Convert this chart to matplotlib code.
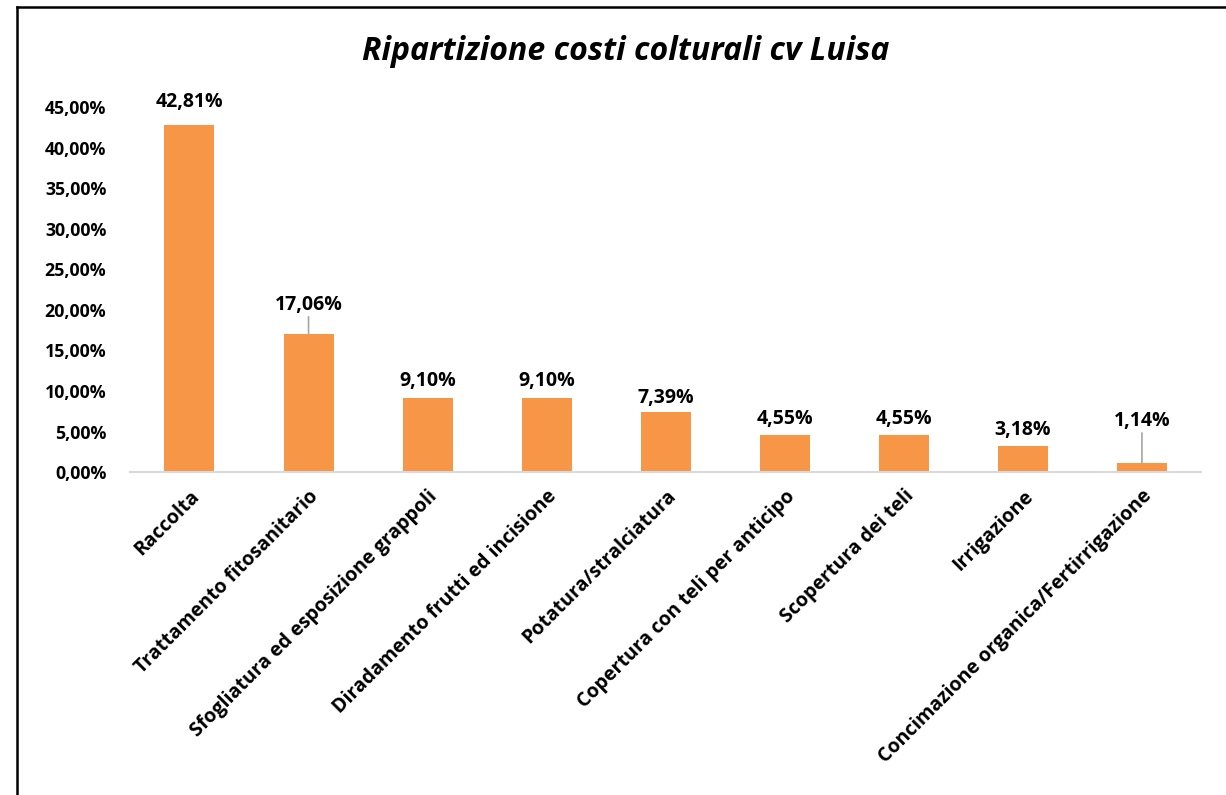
"""Ripartizione costi colturali cv Luisa - istogramma."""

import matplotlib.pyplot as plt
from matplotlib.lines import Line2D

voci = [
    "Raccolta",
    "Trattamento fitosanitario",
    "Sfogliatura ed esposizione grappoli",
    "Diradamento frutti ed incisione",
    "Potatura/stralciatura",
    "Copertura con teli per anticipo",
    "Scopertura dei teli",
    "Irrigazione",
    "Concimazione organica/Fertirrigazione",
]
quote = [42.81, 17.06, 9.10, 9.10, 7.39, 4.55, 4.55, 3.18, 1.14]
tick_y = [0, 5, 10, 15, 20, 25, 30, 35, 40, 45]

# distanza etichetta-barra (pixel) e linee guida come nel grafico Excel
scarto = [23, 29, 17, 17, 14, 16, 16, 16, 42]
con_linea = [False, True, False, False, False, False, False, False, True]

plt.rcParams["font.family"] = ["Open Sans", "DejaVu Sans"]
fs = 14

def fmt(v):
    return f"{v:.2f}".replace(".", ",") + "%"

fig = plt.figure(figsize=(12.26, 7.95), dpi=100)
ax = fig.add_axes([0.106, 0.406, 0.874, 0.4594])

x = range(len(voci))
ax.bar(x, quote, width=0.42, color="#F79646", zorder=2)
ax.set_xlim(-0.5, len(voci) - 0.5)
ax.set_ylim(0, 45)
ax.set_yticks(tick_y)
ax.set_yticklabels([fmt(t) for t in tick_y], fontsize=12.8, fontweight="bold")
ax.set_xticks(list(x))
ax.set_xticklabels(voci, rotation=45, ha="right", rotation_mode="anchor",
                   fontsize=fs, fontweight="bold")
ax.tick_params(axis="y", length=0, pad=17)
ax.tick_params(axis="x", length=0, pad=10)

for s in ["top", "right", "left"]:
    ax.spines[s].set_visible(False)
ax.spines["bottom"].set_color("#D9D9D9")
ax.spines["bottom"].set_linewidth(1.5)

for i, v in enumerate(quote):
    ax.annotate(fmt(v), (i, v), xytext=(0, scarto[i]), textcoords="offset pixels",
                ha="center", va="center", fontsize=fs, fontweight="bold")
    if con_linea[i]:
        ax.annotate("", (i, v), xytext=(0, scarto[i] - 12), textcoords="offset pixels",
                    arrowprops=dict(arrowstyle="-", color="#A6A6A6", lw=1.2,
                                    shrinkA=0, shrinkB=0))

fig.text(0.51, 0.935, "Ripartizione costi colturali cv Luisa", ha="center", va="center",
         fontsize=23, fontweight="bold", fontstyle="italic")

# cornice parziale (solo bordo superiore e sinistro visibili)
fig.add_artist(Line2D([17 / 1226, 1], [1 - 7 / 795, 1 - 7 / 795], color="black", lw=1.8,
                      transform=fig.transFigure))
fig.add_artist(Line2D([17 / 1226, 17 / 1226], [0, 1 - 7 / 795], color="black", lw=1.8,
                      transform=fig.transFigure))

fig.savefig("out.png", dpi=100)
plt.close(fig)
